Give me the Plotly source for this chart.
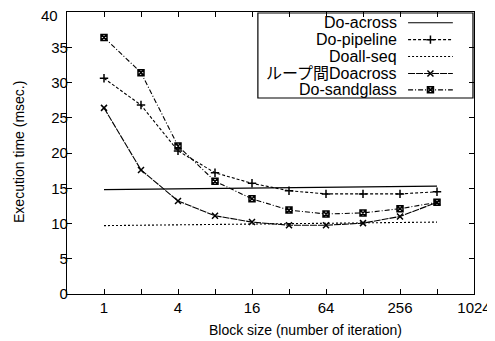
import plotly.graph_objects as go

block_sizes = [1, 2, 4, 8, 16, 32, 64, 128, 256, 512]
do_across = [14.8, 14.85, 14.9, 14.95, 15.0, 15.05, 15.1, 15.15, 15.2, 15.3]
do_pipeline = [30.6, 26.8, 20.3, 17.2, 15.7, 14.65, 14.2, 14.2, 14.2, 14.5]
doall_seq = [9.7, 9.75, 9.8, 9.85, 9.9, 9.95, 10.0, 10.05, 10.1, 10.2]
loop_doacross = [26.4, 17.6, 13.2, 11.1, 10.2, 9.75, 9.75, 10.05, 11.0, 13.0]
do_sandglass = [36.4, 31.4, 21.0, 16.0, 13.5, 11.9, 11.35, 11.5, 12.1, 13.0]

series_names = ["Do-across", "Do-pipeline", "Doall-seq", "ループ間Doacross", "Do-sandglass"]
series_values = [do_across, do_pipeline, doall_seq, loop_doacross, do_sandglass]

x_tickvals = [1, 2, 4, 8, 16, 32, 64, 128, 256, 512, 1024]
x_ticktext = ["1", "", "4", "", "16", "", "64", "", "256", "", "1024"]
y_tickvals = [0, 5, 10, 15, 20, 25, 30, 35, 40]
y_ticktext = ["0", "5", "10", "15", "20", "25", "30", "35", ""]  # "40" drawn below so it is not clipped
y_top_label = "40"

styles = [
    dict(dash="solid", symbol=None),
    dict(dash="3px,2px", symbol="cross-thin-open"),
    dict(dash="2px,2px", symbol=None),
    dict(dash="7px,1px", symbol="x-thin-open"),
    dict(dash="5px,2px,1px,2px", symbol="square-x-open"),
]

FONT = "Liberation Sans, Arial, Noto Sans CJK JP, sans-serif"
fig = go.Figure()

for name, vals, st in zip(series_names, series_values, styles):
    mode = "lines+markers" if st["symbol"] else "lines"
    marker = dict(symbol=st["symbol"], size=6, color="black",
                  line=dict(color="black", width=1.5)) if st["symbol"] else None
    fig.add_trace(go.Scatter(x=block_sizes, y=vals, mode=mode, name=name,
                             line=dict(color="black", width=1.1, dash=st["dash"]),
                             marker=marker, showlegend=False))

# custom legend (text right-aligned, sample on the right) like gnuplot
box_x0, box_x1 = 0.469, 0.9975
box_y0, box_y1 = 0.695, 0.9965
row_y = [0.962, 0.902, 0.842, 0.782, 0.724]
sample_x = [0.838, 0.948]
fig.add_shape(type="rect", xref="paper", yref="paper", x0=box_x0, x1=box_x1,
              y0=box_y0, y1=box_y1, line=dict(color="black", width=1.2),
              fillcolor="white", layer="below")
for name, st, ry in zip(series_names, styles, row_y):
    fig.add_annotation(x=0.815, y=ry, xref="paper", yref="paper", text=name,
                       showarrow=False, xanchor="right", yanchor="middle",
                       font=dict(size=16, color="black", family=FONT))
    fig.add_trace(go.Scatter(x=sample_x, y=[ry, ry], mode="lines", xaxis="x2", yaxis="y2",
                             line=dict(color="black", width=1.1, dash=st["dash"]),
                             showlegend=False, hoverinfo="skip"))
    if st["symbol"]:
        fig.add_trace(go.Scatter(x=[sum(sample_x) / 2], y=[ry], mode="markers",
                                 xaxis="x2", yaxis="y2",
                                 marker=dict(symbol=st["symbol"], size=6, color="black",
                                             line=dict(color="black", width=1.5)),
                                 showlegend=False, hoverinfo="skip"))

# top y tick label, nudged down slightly so it stays inside the page
fig.add_annotation(x=-0.018, y=0.987, xref="paper", yref="paper", text=y_top_label,
                   showarrow=False, xanchor="right", yanchor="middle",
                   font=dict(size=15, family=FONT))

# axis titles
fig.add_annotation(x=0.587, y=-0.1277, xref="paper", yref="paper",
                   text="Block size (number of iteration)", showarrow=False,
                   xanchor="center", yanchor="middle", font=dict(size=14, family=FONT))
fig.add_annotation(x=-0.118, y=0.5035, xref="paper", yref="paper",
                   text="Execution time (msec.)", showarrow=False, textangle=-90,
                   xanchor="center", yanchor="middle", font=dict(size=14, family=FONT))

# page body has an 8px margin, so the figure is sized to fit what remains
fig.update_layout(
    width=487, height=333,
    margin=dict(l=59, r=21, t=4, b=47),
    paper_bgcolor="white", plot_bgcolor="white",
    font=dict(family=FONT, size=15, color="black"),
    xaxis=dict(type="log", range=[-0.30103, 3.0103], tickvals=x_tickvals, ticktext=x_ticktext,
               ticks="inside", ticklen=5, tickcolor="black", mirror="ticks",
               showline=True, linecolor="black", linewidth=1.3, showgrid=False, zeroline=False,
               tickfont=dict(size=15), automargin=False),
    yaxis=dict(range=[0, 40], tickvals=y_tickvals, ticktext=y_ticktext, ticks="inside",
               ticklen=5, tickcolor="black",
               mirror="ticks", showline=True, linecolor="black", linewidth=1.3,
               showgrid=False, zeroline=False, tickfont=dict(size=15), automargin=False,
               ticklabelstandoff=-5),
    xaxis2=dict(domain=[0, 1], range=[0, 1], overlaying="x", visible=False, fixedrange=True),
    yaxis2=dict(domain=[0, 1], range=[0, 1], overlaying="y", visible=False, fixedrange=True,
                anchor="x2"),
)

fig.write_html("out.html")
